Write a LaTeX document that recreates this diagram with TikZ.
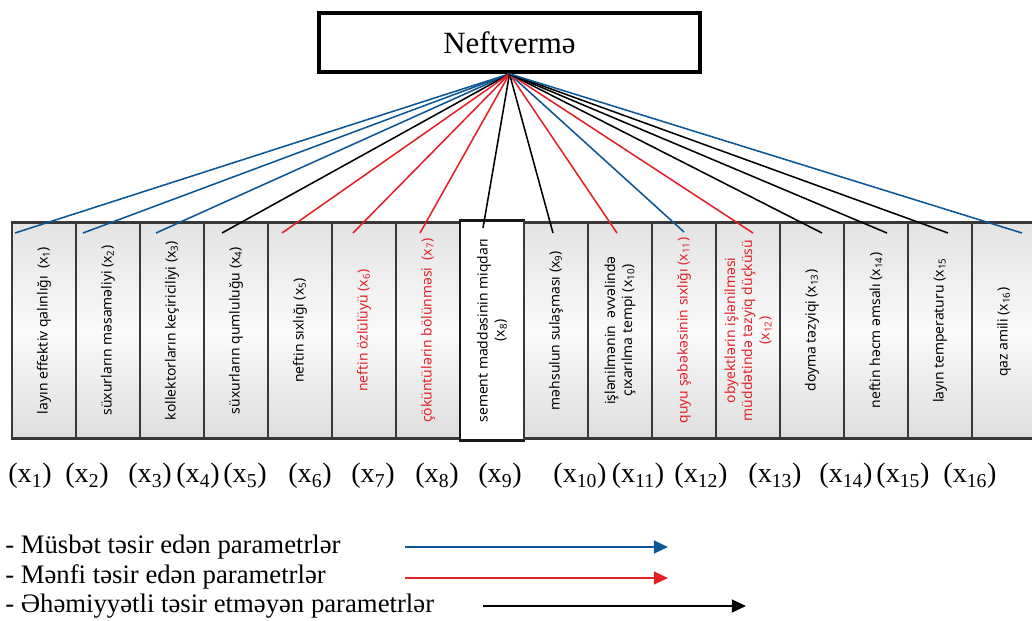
\documentclass[tikz,border=0pt]{standalone}
\usepackage{fontspec}
\setmainfont{Liberation Serif}
\newfontfamily\boxfont{Noto Sans}
\usetikzlibrary{arrows.meta}

\definecolor{posblue}{RGB}{12,86,150}
\definecolor{negred}{RGB}{228,32,40}

\tikzset{
  pbox/.style={draw=black!78, line width=2pt, minimum width=1.6cm, minimum height=5.4cm,
    top color=black!11, bottom color=black!13, middle color=black!2},
  pboxw/.style={draw=black!90, line width=2pt, fill=white, minimum width=1.6cm, minimum height=5.48cm},
  ptext/.style={rotate=90, align=center, font=\boxfont\fontsize{9.9}{12.2}\selectfont},
  link/.style={line width=1.1pt},
  xlabel/.style={font=\fontsize{20}{24}\selectfont, inner sep=0pt},
  legtext/.style={font=\fontsize{19}{22}\selectfont, inner sep=0pt, anchor=west},
  legarrow/.style={line width=1.6pt, -{Triangle[length=10pt,width=9pt]}}
}

\begin{document}
\begin{tikzpicture}[x=0.025cm, y=-0.025cm]
    \useasboundingbox (0,0) rectangle (1032,620);

    \node[draw, line width=2.8pt, minimum width=9.52cm, minimum height=1.47cm, inner sep=0pt,
          font=\fontsize{22}{26}\selectfont] (top) at (509.5,42.5) {Neftvermə};

    \foreach \i/\sty/\col/\lc/\ex/\ey/\txt in
             {
               1/pbox/black/posblue/15/233/{layın effektiv qalınlığı~ (x\textsubscript{1})},
               2/pbox/black/posblue/83/233/{süxurların məsaməliyi (x\textsubscript{2})},
               3/pbox/black/posblue/156/233/{kollektorların keçiriciliyi (x\textsubscript{3})},
               4/pbox/black/black/222/233/{süxurların qumluluğu (x\textsubscript{4})},
               5/pbox/black/negred/282/233/{neftin sıxlığı (x\textsubscript{5})},
               6/pbox/negred/negred/353/233/{neftin özlülüyü (x\textsubscript{6})},
               7/pbox/negred/negred/420/233/{çöküntülərin bölünməsi~ (x\textsubscript{7})},
               8/pboxw/black/black/483/228/{sement maddəsinin miqdarı\\(x\textsubscript{8})},
               9/pbox/black/black/553/233/{məhsulun sulaşması (x\textsubscript{9})},
               10/pbox/black/negred/617/233/{işlənilmənin~ əvvəlində\\çıxarılma tempi (x\textsubscript{10})},
               11/pbox/negred/posblue/684/232/{quyu şəbəkəsinin sıxlığı (x\textsubscript{11})},
               12/pbox/negred/negred/753/233/{obyektlərin işlənilməsi\\müddətində təzyiq düçküsü\\(x\textsubscript{12})},
               13/pbox/black/black/822/233/{doyma təzyiqi (x\textsubscript{13})},
               14/pbox/black/black/887/233/{neftin həcm əmsalı (x\textsubscript{14})},
               15/pbox/black/black/948/233/{layın temperaturu (x\textsubscript{15}},
               16/pbox/black/posblue/1022/233/{qaz amili (x\textsubscript{16})}
             }
             {
               \node[\sty] (b\i) at (64*\i-20,330.5) {};
               \node[ptext, text=\col] (t\i) at (b\i) {\txt};
               \coordinate (e\i) at (\ex,\ey);
               \draw[link, \lc] (top.south) -- (e\i);
             }

    \foreach \i/\lx in {1/30,2/87,3/150,4/198,5/245,6/310,7/373,8/437,
                        9/500,10/580,11/638,12/701,13/775,14/846,15/903,16/970}
             {
               \node[xlabel] (l\i) at (\lx,476) {(x\textsubscript{\i})};
             }

    \node[legtext] (m1) at (5,547) {- Müsbət təsir edən parametrlər};
    \node[legtext] (m2) at (5,577) {- Mənfi təsir edən parametrlər};
    \node[legtext] (m3) at (5,606) {- Əhəmiyyətli təsir etməyən parametrlər};

    \coordinate (p1) at (405,547);  \coordinate (q1) at (668,547);
    \coordinate (p2) at (405,578);  \coordinate (q2) at (668,578);
    \coordinate (p3) at (483,606);  \coordinate (q3) at (746,606);
    \draw[legarrow, posblue] (p1) -- (q1);
    \draw[legarrow, negred] (p2) -- (q2);
    \draw[legarrow, black] (p3) -- (q3);

  \end{tikzpicture}
\end{document}
